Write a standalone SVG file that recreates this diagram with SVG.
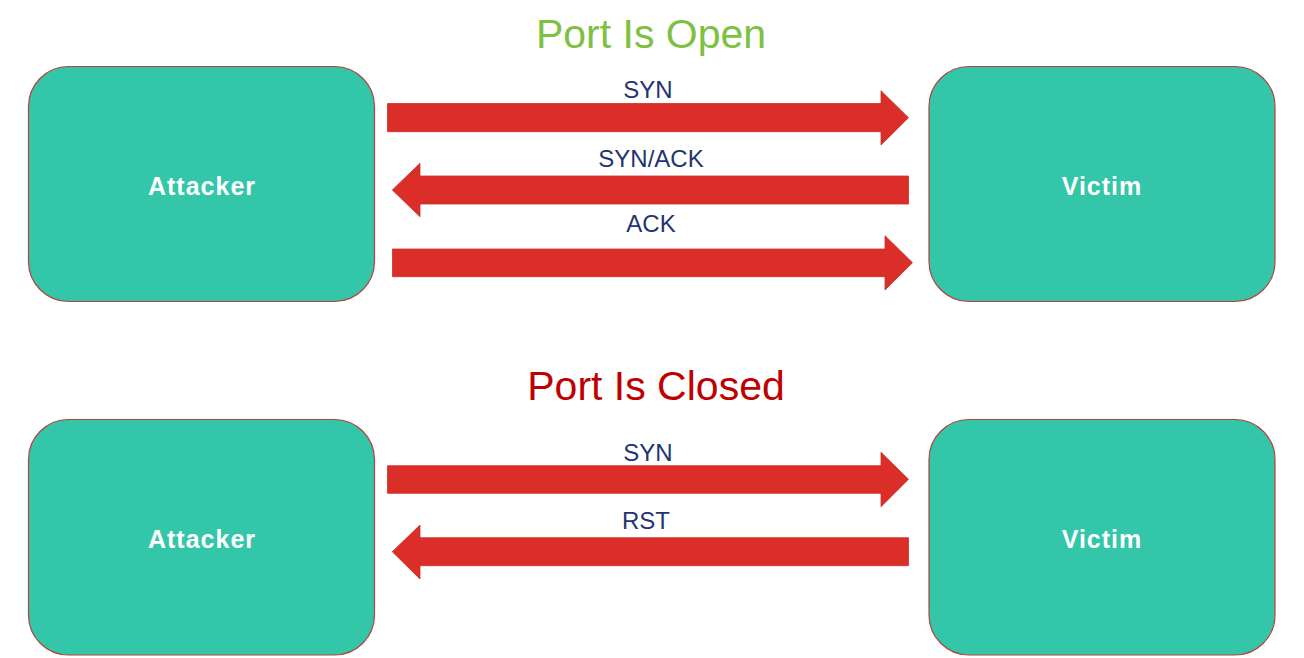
<svg xmlns="http://www.w3.org/2000/svg" width="1304" height="658" viewBox="0 0 1304 658">
<style>
.box{fill:#33c6a8;stroke:#b5423d;stroke-width:1.2}
.node{font-family:"Liberation Sans",Arial,sans-serif;font-weight:bold;font-size:25px;letter-spacing:1px;fill:#ffffff;text-anchor:middle}
.arrow{fill:#dc2e28;stroke:#c8302a;stroke-width:0.8}
.lbl{font-family:"Liberation Sans",Arial,sans-serif;font-size:24px;fill:#1f3570;text-anchor:middle}
.title{font-family:"Liberation Sans",Arial,sans-serif;font-size:41px;text-anchor:middle}
</style>
<rect width="1304" height="658" fill="#ffffff"/>
<text class="title" x="651" y="48" fill="#7dc142">Port Is Open</text>
<text class="title" x="656" y="400" fill="#c00000">Port Is Closed</text>
<g id="attacker-open"><rect class="box" x="28.5" y="66.5" width="346" height="235" rx="40"/><text class="node" x="202" y="195">Attacker</text></g>
<g id="victim-open"><rect class="box" x="929" y="66.5" width="346" height="235" rx="40"/><text class="node" x="1102" y="195">Victim</text></g>
<g id="attacker-closed"><rect class="box" x="28.5" y="419.5" width="346" height="235.5" rx="40"/><text class="node" x="202" y="547.5">Attacker</text></g>
<g id="victim-closed"><rect class="box" x="929" y="419.5" width="346" height="235.5" rx="40"/><text class="node" x="1102" y="547.5">Victim</text></g>
<g id="connectors">
<polygon class="arrow" points="387.5,103.5 881,103.5 881,90.7 908.5,117.7 881,145 881,131.7 387.5,131.7"/>
<text class="lbl" x="648" y="98.3">SYN</text>
<polygon class="arrow" points="908.5,176 420,176 420,163.3 392.3,190 420,216.7 420,204 908.5,204"/>
<text class="lbl" x="651" y="166.7">SYN/ACK</text>
<polygon class="arrow" points="392.5,249 885,249 885,235.7 912.5,262.7 885,290 885,276.7 392.5,276.7"/>
<text class="lbl" x="651" y="231.7">ACK</text>
<polygon class="arrow" points="387.5,465.7 881,465.7 881,452.3 908.5,479.3 881,506.7 881,493.3 387.5,493.3"/>
<text class="lbl" x="648" y="461">SYN</text>
<polygon class="arrow" points="908.5,537.7 420,537.7 420,525 392.3,551.7 420,579 420,565.7 908.5,565.7"/>
<text class="lbl" x="646" y="529.3">RST</text>
</g>
</svg>
